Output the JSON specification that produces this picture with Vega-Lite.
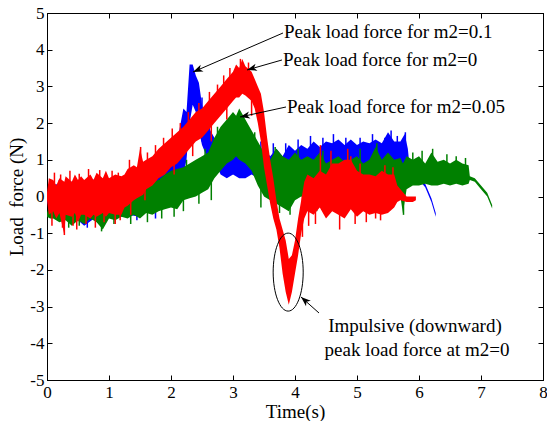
{
  "$schema": "https://vega.github.io/schema/vega-lite/v6.json",
  "width": 496,
  "height": 367,
  "autosize": {"type": "none"},
  "padding": {"left": 47, "top": 13, "right": 4, "bottom": 41},
  "config": {
    "font": "Liberation Serif",
    "view": {"stroke": "black", "strokeWidth": 1},
    "axis": {
      "domainColor": "black", "tickColor": "black", "labelColor": "black", "titleColor": "black",
      "labelFont": "Liberation Serif", "titleFont": "Liberation Serif",
      "labelFontSize": 17, "titleFontSize": 19, "titleFontWeight": "normal",
      "grid": false, "tickSize": -5, "labelFlush": false, "labelOverlap": false
    }
  },
  "datasets": {
    "blue": [
      {"t":0.0,"lo":-0.1,"hi":0.1},{"t":0.05,"lo":-0.5,"hi":0.3},{"t":0.2,"lo":-0.55,"hi":0.35},{"t":0.4,"lo":-0.5,"hi":0.4},
      {"t":0.6,"lo":-0.8,"hi":0.35},{"t":0.8,"lo":-0.55,"hi":0.5},{"t":1.0,"lo":-0.5,"hi":0.45},{"t":1.2,"lo":-0.55,"hi":0.5},
      {"t":1.3,"lo":-0.5,"hi":0.4},{"t":1.5,"lo":-0.55,"hi":0.6},{"t":1.6,"lo":-0.4,"hi":0.6},{"t":1.7,"lo":-0.35,"hi":0.8},
      {"t":1.8,"lo":-0.2,"hi":0.9},{"t":1.9,"lo":-0.1,"hi":1.0},{"t":2.0,"lo":0.0,"hi":1.2},{"t":2.1,"lo":0.2,"hi":1.5},
      {"t":2.2,"lo":0.6,"hi":2.4},{"t":2.25,"lo":1.0,"hi":2.3},{"t":2.3,"lo":2.0,"hi":3.6},{"t":2.35,"lo":2.5,"hi":3.6},
      {"t":2.4,"lo":2.3,"hi":3.3},{"t":2.45,"lo":1.8,"hi":3.1},{"t":2.5,"lo":1.4,"hi":2.5},{"t":2.55,"lo":1.2,"hi":2.1},
      {"t":2.6,"lo":1.0,"hi":1.9},{"t":2.7,"lo":1.0,"hi":1.6},{"t":2.8,"lo":0.6,"hi":1.4},{"t":2.9,"lo":0.5,"hi":1.5},
      {"t":3.0,"lo":0.6,"hi":1.3},{"t":3.1,"lo":0.5,"hi":1.65},{"t":3.2,"lo":0.5,"hi":1.4},{"t":3.3,"lo":0.6,"hi":1.4},
      {"t":3.4,"lo":0.5,"hi":1.2},{"t":3.5,"lo":0.4,"hi":1.3},{"t":3.6,"lo":0.3,"hi":1.1},{"t":3.7,"lo":0.4,"hi":1.3},
      {"t":3.8,"lo":0.35,"hi":1.1},{"t":3.9,"lo":0.5,"hi":1.4},{"t":4.0,"lo":0.5,"hi":1.25},{"t":4.1,"lo":0.6,"hi":1.4},
      {"t":4.2,"lo":0.6,"hi":1.3},{"t":4.3,"lo":0.6,"hi":1.5},{"t":4.4,"lo":0.6,"hi":1.35},{"t":4.5,"lo":0.65,"hi":1.5},
      {"t":4.6,"lo":0.6,"hi":1.45},{"t":4.7,"lo":0.7,"hi":1.55},{"t":4.8,"lo":0.6,"hi":1.4},{"t":4.9,"lo":0.65,"hi":1.55},
      {"t":5.0,"lo":0.6,"hi":1.4},{"t":5.1,"lo":0.65,"hi":1.5},{"t":5.2,"lo":0.6,"hi":1.45},{"t":5.3,"lo":0.7,"hi":1.55},
      {"t":5.4,"lo":0.6,"hi":1.45},{"t":5.5,"lo":0.65,"hi":1.75},{"t":5.6,"lo":0.6,"hi":1.5},{"t":5.7,"lo":0.65,"hi":1.5},
      {"t":5.77,"lo":0.6,"hi":1.7},{"t":5.82,"lo":0.6,"hi":1.3},{"t":5.85,"lo":0.6,"hi":0.8},{"t":5.9,"lo":0.6,"hi":0.7},
      {"t":6.0,"lo":0.45,"hi":0.55},{"t":6.1,"lo":0.25,"hi":0.35},{"t":6.2,"lo":-0.15,"hi":-0.05},{"t":6.27,"lo":-0.55,"hi":-0.45}
    ],
    "blueSpikes": [
      {"t":0.2,"lo":0,"hi":0.45},{"t":0.7,"lo":0,"hi":0.55},{"t":1.12,"lo":0,"hi":0.5},{"t":1.55,"lo":0,"hi":0.65},
      {"t":1.95,"lo":0.5,"hi":1.3},{"t":2.12,"lo":0.5,"hi":1.6},{"t":2.5,"lo":1.5,"hi":2.7},{"t":2.62,"lo":1.0,"hi":2.1},
      {"t":2.77,"lo":0.8,"hi":1.7},{"t":2.98,"lo":0.6,"hi":1.7},{"t":3.15,"lo":0.7,"hi":1.6},{"t":3.45,"lo":0.6,"hi":1.5},
      {"t":3.65,"lo":0.5,"hi":1.45},{"t":3.85,"lo":0.5,"hi":1.45},{"t":4.05,"lo":0.7,"hi":1.55},{"t":4.25,"lo":0.8,"hi":1.65},
      {"t":4.45,"lo":0.8,"hi":1.6},{"t":4.62,"lo":0.9,"hi":1.7},{"t":4.82,"lo":0.9,"hi":1.6},{"t":5.05,"lo":0.9,"hi":1.6},
      {"t":5.25,"lo":0.9,"hi":1.7},{"t":5.45,"lo":0.9,"hi":1.6},{"t":5.55,"lo":0.9,"hi":1.8},{"t":5.65,"lo":0.9,"hi":1.65},
      {"t":5.78,"lo":0.9,"hi":1.75},{"t":1.75,"lo":-0.6,"hi":0},{"t":2.1,"lo":-0.3,"hi":0.3},{"t":0.65,"lo":-0.85,"hi":-0.3},
      {"t":1.45,"lo":-0.65,"hi":-0.3}
    ],
    "green": [
      {"t":0.0,"lo":-0.55,"hi":-0.45},{"t":0.05,"lo":-0.6,"hi":-0.2},{"t":0.1,"lo":-0.6,"hi":0.0},{"t":0.2,"lo":-0.7,"hi":0.1},
      {"t":0.3,"lo":-0.65,"hi":0.1},{"t":0.4,"lo":-0.8,"hi":0.0},{"t":0.5,"lo":-0.65,"hi":0.1},{"t":0.6,"lo":-0.75,"hi":0.0},
      {"t":0.7,"lo":-0.6,"hi":0.1},{"t":0.8,"lo":-0.7,"hi":0.05},{"t":0.9,"lo":-0.9,"hi":0.1},{"t":1.0,"lo":-0.6,"hi":0.1},
      {"t":1.1,"lo":-0.65,"hi":0.15},{"t":1.2,"lo":-0.55,"hi":0.1},{"t":1.3,"lo":-0.6,"hi":0.15},{"t":1.4,"lo":-0.5,"hi":0.2},
      {"t":1.5,"lo":-0.6,"hi":0.2},{"t":1.6,"lo":-0.45,"hi":0.3},{"t":1.7,"lo":-0.5,"hi":0.4},{"t":1.8,"lo":-0.4,"hi":0.45},
      {"t":1.9,"lo":-0.35,"hi":0.6},{"t":2.0,"lo":-0.3,"hi":0.7},{"t":2.1,"lo":-0.35,"hi":0.75},{"t":2.2,"lo":-0.1,"hi":0.8},
      {"t":2.3,"lo":-0.05,"hi":0.9},{"t":2.4,"lo":0.0,"hi":1.0},{"t":2.5,"lo":0.1,"hi":1.1},{"t":2.6,"lo":0.2,"hi":1.2},
      {"t":2.7,"lo":0.5,"hi":1.6},{"t":2.8,"lo":0.7,"hi":1.9},{"t":2.9,"lo":0.9,"hi":2.1},{"t":3.0,"lo":1.0,"hi":2.3},
      {"t":3.05,"lo":1.1,"hi":2.2},{"t":3.1,"lo":1.0,"hi":2.4},{"t":3.2,"lo":0.9,"hi":2.1},{"t":3.3,"lo":0.7,"hi":1.8},
      {"t":3.4,"lo":0.3,"hi":1.5},{"t":3.5,"lo":0.0,"hi":1.2},{"t":3.6,"lo":-0.1,"hi":1.0},{"t":3.7,"lo":-0.2,"hi":1.3},
      {"t":3.8,"lo":-0.3,"hi":1.1},{"t":3.9,"lo":-0.4,"hi":1.0},{"t":4.0,"lo":-0.1,"hi":1.2},{"t":4.1,"lo":0.0,"hi":1.0},
      {"t":4.2,"lo":-0.1,"hi":1.1},{"t":4.3,"lo":0.0,"hi":1.0},{"t":4.4,"lo":-0.1,"hi":1.2},{"t":4.5,"lo":0.0,"hi":0.9},
      {"t":4.6,"lo":-0.2,"hi":1.0},{"t":4.7,"lo":-0.1,"hi":1.1},{"t":4.8,"lo":0.0,"hi":0.95},{"t":4.9,"lo":-0.1,"hi":1.0},
      {"t":5.0,"lo":-0.2,"hi":1.1},{"t":5.1,"lo":-0.1,"hi":0.9},{"t":5.2,"lo":-0.2,"hi":1.0},{"t":5.3,"lo":-0.15,"hi":1.35},
      {"t":5.4,"lo":-0.2,"hi":1.0},{"t":5.5,"lo":-0.1,"hi":1.2},{"t":5.6,"lo":0.1,"hi":1.0},{"t":5.7,"lo":0.0,"hi":1.05},
      {"t":5.74,"lo":-0.45,"hi":0.9},{"t":5.8,"lo":0.2,"hi":1.1},{"t":5.9,"lo":0.3,"hi":1.0},{"t":6.0,"lo":0.3,"hi":1.1},
      {"t":6.1,"lo":0.35,"hi":0.9},{"t":6.2,"lo":0.3,"hi":1.2},{"t":6.3,"lo":0.3,"hi":0.95},{"t":6.4,"lo":0.35,"hi":1.0},
      {"t":6.5,"lo":0.3,"hi":0.9},{"t":6.6,"lo":0.35,"hi":1.0},{"t":6.7,"lo":0.3,"hi":0.9},{"t":6.8,"lo":0.35,"hi":0.85},
      {"t":6.82,"lo":0.45,"hi":0.55},{"t":6.9,"lo":0.4,"hi":0.5},{"t":7.0,"lo":0.2,"hi":0.3},{"t":7.1,"lo":0.0,"hi":0.1},
      {"t":7.18,"lo":-0.33,"hi":-0.23}
    ],
    "greenSpikes": [
      {"t":0.35,"lo":-0.85,"hi":-0.3},{"t":0.52,"lo":-0.8,"hi":-0.3},{"t":0.88,"lo":-0.95,"hi":-0.3},{"t":1.08,"lo":-0.75,"hi":-0.3},
      {"t":1.35,"lo":-0.75,"hi":-0.3},{"t":1.62,"lo":-0.7,"hi":-0.2},{"t":1.85,"lo":-0.6,"hi":-0.1},{"t":2.05,"lo":-0.55,"hi":0},
      {"t":2.2,"lo":-0.4,"hi":0},{"t":2.45,"lo":-0.2,"hi":0.3},{"t":2.65,"lo":-0.1,"hi":0.5},{"t":3.45,"lo":-0.3,"hi":0.5},
      {"t":3.75,"lo":-0.45,"hi":0.3},{"t":3.92,"lo":-0.5,"hi":0.3},{"t":4.35,"lo":-0.4,"hi":0.3},{"t":5.22,"lo":-0.45,"hi":0.3},
      {"t":5.75,"lo":-0.5,"hi":0.3},{"t":2.25,"lo":0.3,"hi":1.0},{"t":2.55,"lo":0.5,"hi":1.3},{"t":2.75,"lo":1.0,"hi":1.9},
      {"t":3.35,"lo":1.0,"hi":1.75},{"t":3.68,"lo":0.5,"hi":1.35},{"t":4.05,"lo":0.5,"hi":1.3},{"t":4.45,"lo":0.5,"hi":1.25},
      {"t":4.85,"lo":0.5,"hi":1.2},{"t":5.05,"lo":0.5,"hi":1.3},{"t":5.32,"lo":0.5,"hi":1.45},{"t":5.9,"lo":0.5,"hi":1.2},
      {"t":6.05,"lo":0.5,"hi":1.25},{"t":6.22,"lo":0.5,"hi":1.3},{"t":6.45,"lo":0.5,"hi":1.15},{"t":6.6,"lo":0.5,"hi":1.1},
      {"t":6.75,"lo":0.5,"hi":1.05}
    ],
    "red": [
      {"t":0.0,"lo":-0.1,"hi":0.1},{"t":0.03,"lo":-0.5,"hi":0.5},{"t":0.1,"lo":-0.4,"hi":0.45},{"t":0.15,"lo":-0.6,"hi":0.3},
      {"t":0.2,"lo":-0.45,"hi":0.5},{"t":0.28,"lo":-1.05,"hi":0.4},{"t":0.3,"lo":-0.5,"hi":0.55},{"t":0.4,"lo":-0.55,"hi":0.4},
      {"t":0.45,"lo":-0.45,"hi":0.6},{"t":0.5,"lo":-0.7,"hi":0.45},{"t":0.55,"lo":-0.5,"hi":0.55},{"t":0.6,"lo":-0.5,"hi":0.45},
      {"t":0.7,"lo":-0.6,"hi":0.6},{"t":0.75,"lo":-0.5,"hi":0.45},{"t":0.8,"lo":-0.55,"hi":0.65},{"t":0.9,"lo":-0.45,"hi":0.5},
      {"t":0.95,"lo":-0.55,"hi":0.7},{"t":1.0,"lo":-0.45,"hi":0.5},{"t":1.1,"lo":-0.5,"hi":0.6},{"t":1.2,"lo":-0.5,"hi":0.55},
      {"t":1.25,"lo":-0.3,"hi":0.6},{"t":1.3,"lo":-0.25,"hi":0.75},{"t":1.4,"lo":-0.1,"hi":0.85},{"t":1.45,"lo":-0.05,"hi":0.8},
      {"t":1.5,"lo":0.0,"hi":1.3},{"t":1.55,"lo":0.05,"hi":0.95},{"t":1.6,"lo":0.2,"hi":1.0},{"t":1.7,"lo":0.3,"hi":1.1},
      {"t":1.8,"lo":0.5,"hi":1.3},{"t":1.9,"lo":0.6,"hi":1.45},{"t":2.0,"lo":0.8,"hi":1.6},{"t":2.1,"lo":0.9,"hi":1.75},
      {"t":2.2,"lo":1.1,"hi":1.9},{"t":2.3,"lo":1.3,"hi":2.1},{"t":2.4,"lo":1.5,"hi":2.3},{"t":2.5,"lo":1.6,"hi":2.4},
      {"t":2.6,"lo":1.8,"hi":2.6},{"t":2.7,"lo":2.0,"hi":2.8},{"t":2.8,"lo":2.2,"hi":3.0},{"t":2.9,"lo":2.4,"hi":3.2},
      {"t":3.0,"lo":2.6,"hi":3.4},{"t":3.05,"lo":2.7,"hi":3.6},{"t":3.1,"lo":2.7,"hi":3.5},{"t":3.15,"lo":2.8,"hi":3.75},
      {"t":3.2,"lo":2.75,"hi":3.55},{"t":3.3,"lo":2.6,"hi":3.4},{"t":3.35,"lo":2.4,"hi":3.2},{"t":3.4,"lo":2.0,"hi":3.0},
      {"t":3.45,"lo":1.5,"hi":2.8},{"t":3.5,"lo":0.8,"hi":2.3},{"t":3.55,"lo":0.3,"hi":1.6},{"t":3.6,"lo":-0.2,"hi":1.0},
      {"t":3.65,"lo":-0.6,"hi":0.5},{"t":3.7,"lo":-0.9,"hi":-0.1},{"t":3.75,"lo":-1.4,"hi":-0.6},{"t":3.8,"lo":-2.1,"hi":-0.9},
      {"t":3.85,"lo":-2.6,"hi":-1.2},{"t":3.9,"lo":-2.95,"hi":-1.7},{"t":3.95,"lo":-2.6,"hi":-1.6},{"t":4.0,"lo":-2.1,"hi":-1.2},
      {"t":4.05,"lo":-1.6,"hi":-0.6},{"t":4.1,"lo":-1.0,"hi":-0.1},{"t":4.15,"lo":-0.6,"hi":0.4},{"t":4.2,"lo":-0.4,"hi":0.6},
      {"t":4.3,"lo":-0.5,"hi":0.5},{"t":4.4,"lo":-0.3,"hi":0.7},{"t":4.5,"lo":-0.6,"hi":0.6},{"t":4.6,"lo":-0.4,"hi":0.9},
      {"t":4.7,"lo":-0.5,"hi":0.9},{"t":4.8,"lo":-0.6,"hi":1.0},{"t":4.9,"lo":-0.35,"hi":1.0},{"t":5.0,"lo":-0.55,"hi":0.7},
      {"t":5.1,"lo":-0.4,"hi":0.6},{"t":5.2,"lo":-0.5,"hi":0.6},{"t":5.3,"lo":-0.45,"hi":0.55},{"t":5.4,"lo":-0.5,"hi":0.7},
      {"t":5.5,"lo":-0.45,"hi":0.6},{"t":5.6,"lo":-0.3,"hi":0.6},{"t":5.65,"lo":-0.15,"hi":0.3},{"t":5.7,"lo":-0.1,"hi":0.2},
      {"t":5.8,"lo":-0.15,"hi":0.0},{"t":5.9,"lo":-0.15,"hi":0.0},{"t":5.95,"lo":-0.1,"hi":0.0}
    ],
    "redSpikes": [
      {"t":0.12,"lo":0,"hi":0.65},{"t":0.22,"lo":0,"hi":0.6},{"t":0.37,"lo":0,"hi":0.7},{"t":0.52,"lo":0,"hi":0.62},
      {"t":0.67,"lo":0,"hi":0.75},{"t":0.85,"lo":0,"hi":0.72},{"t":1.05,"lo":0,"hi":0.7},{"t":1.15,"lo":0,"hi":0.65},
      {"t":1.33,"lo":0.2,"hi":1.0},{"t":1.51,"lo":0.3,"hi":1.35},{"t":1.62,"lo":0.4,"hi":1.2},{"t":1.75,"lo":0.6,"hi":1.4},
      {"t":1.88,"lo":0.8,"hi":1.6},{"t":2.02,"lo":1.0,"hi":1.85},{"t":2.15,"lo":1.2,"hi":2.0},{"t":2.28,"lo":1.5,"hi":2.3},
      {"t":2.45,"lo":1.7,"hi":2.55},{"t":2.62,"lo":2.0,"hi":2.85},{"t":2.75,"lo":2.2,"hi":3.05},{"t":2.85,"lo":2.4,"hi":3.3},
      {"t":2.95,"lo":2.6,"hi":3.5},{"t":3.12,"lo":2.9,"hi":3.75},{"t":3.25,"lo":2.9,"hi":3.65},
      {"t":0.08,"lo":-0.8,"hi":0},{"t":0.25,"lo":-0.85,"hi":0},{"t":0.28,"lo":-1.05,"hi":0},{"t":0.42,"lo":-0.8,"hi":0},
      {"t":0.48,"lo":-0.9,"hi":0},{"t":0.63,"lo":-0.75,"hi":0},{"t":0.78,"lo":-0.85,"hi":0},{"t":0.92,"lo":-0.7,"hi":0},
      {"t":1.1,"lo":-0.75,"hi":0},{"t":1.18,"lo":-0.65,"hi":0},{"t":1.35,"lo":-0.5,"hi":0},{"t":1.58,"lo":-0.1,"hi":0.5},
      {"t":2.05,"lo":0.6,"hi":1.2},{"t":2.35,"lo":1.1,"hi":1.8},{"t":2.65,"lo":1.5,"hi":2.2},{"t":2.9,"lo":2.1,"hi":2.8},
      {"t":3.3,"lo":2.2,"hi":3.0},
      {"t":4.12,"lo":-1.1,"hi":0},{"t":4.22,"lo":-0.8,"hi":0},{"t":4.33,"lo":-0.75,"hi":0.2},{"t":4.41,"lo":0,"hi":1.4},
      {"t":4.58,"lo":0,"hi":1.25},{"t":4.72,"lo":-0.9,"hi":0},{"t":4.85,"lo":0,"hi":1.3},{"t":4.9,"lo":0,"hi":1.1},
      {"t":4.97,"lo":-0.75,"hi":0},{"t":5.05,"lo":0,"hi":0.9},{"t":5.15,"lo":-0.7,"hi":0},{"t":5.3,"lo":-0.6,"hi":0},
      {"t":5.45,"lo":0,"hi":0.85},{"t":5.58,"lo":0,"hi":0.8},{"t":5.38,"lo":-0.65,"hi":0}
    ],
    "arrows": [
      {"id":1,"t":3.806,"v":4.455,"t2":2.355,"v2":3.392},
      {"id":2,"t":3.79,"v":3.72,"t2":3.226,"v2":3.447},
      {"id":3,"t":3.855,"v":2.439,"t2":3.113,"v2":2.166},
      {"id":4,"t":4.387,"v":-3.174,"t2":4.097,"v2":-2.738}
    ],
    "labels": [
      {"t":3.823,"v":4.48,"label":"Peak load force for m2=0.1","pos":"left"},
      {"t":3.806,"v":3.72,"label":"Peak load force for m2=0","pos":"left"},
      {"t":3.871,"v":2.44,"label":"Peak load force for m2=0.05","pos":"left"},
      {"t":5.935,"v":-3.53,"label":"Impulsive (downward)","pos":"center"},
      {"t":5.968,"v":-4.18,"label":"peak load force at m2=0","pos":"center"}
    ],
    "ellipse": [{"t":3.89,"v":-2.06}]
  },
  "resolve": {"axis": {"x": "independent", "y": "independent"}},
  "layer": [
    {
      "data": {"name": "blue"},
      "mark": {"type": "area", "color": "#0000ff", "opacity": 1},
      "encoding": {
        "x": {"field": "t", "type": "quantitative", "scale": {"domain": [0, 8], "nice": false, "zero": false},
              "axis": {"orient": "bottom", "values": [0,1,2,3,4,5,6,7,8], "title": "Time(s)", "labelPadding": 9, "titlePadding": 2}},
        "y": {"field": "hi", "type": "quantitative", "scale": {"domain": [-5, 5], "nice": false, "zero": false},
              "axis": {"orient": "left", "values": [-5,-4,-3,-2,-1,0,1,2,3,4,5], "title": "Load\u00a0 force (N)", "labelExpr": "'' + datum.value", "labelPadding": 8, "titlePadding": 3}},
        "y2": {"field": "lo"}
      }
    },
    {
      "data": {"name": "blueSpikes"},
      "mark": {"type": "rule", "color": "#0000ff", "strokeWidth": 1.5},
      "encoding": {
        "x": {"field": "t", "type": "quantitative", "axis": null},
        "y": {"field": "hi", "type": "quantitative", "axis": null},
        "y2": {"field": "lo"}
      }
    },
    {
      "data": {"name": "green"},
      "mark": {"type": "area", "color": "#008000", "opacity": 1},
      "encoding": {
        "x": {"field": "t", "type": "quantitative",
              "axis": {"orient": "top", "values": [0,1,2,3,4,5,6,7,8], "labels": false, "title": null}},
        "y": {"field": "hi", "type": "quantitative",
              "axis": {"orient": "right", "values": [-5,-4,-3,-2,-1,0,1,2,3,4,5], "labels": false, "title": null}},
        "y2": {"field": "lo"}
      }
    },
    {
      "data": {"name": "greenSpikes"},
      "mark": {"type": "rule", "color": "#008000", "strokeWidth": 1.5},
      "encoding": {
        "x": {"field": "t", "type": "quantitative", "axis": null},
        "y": {"field": "hi", "type": "quantitative", "axis": null},
        "y2": {"field": "lo"}
      }
    },
    {
      "data": {"name": "red"},
      "mark": {"type": "area", "color": "#ff0000", "opacity": 1},
      "encoding": {
        "x": {"field": "t", "type": "quantitative", "axis": null},
        "y": {"field": "hi", "type": "quantitative", "axis": null},
        "y2": {"field": "lo"}
      }
    },
    {
      "data": {"name": "redSpikes"},
      "mark": {"type": "rule", "color": "#ff0000", "strokeWidth": 1.5},
      "encoding": {
        "x": {"field": "t", "type": "quantitative", "axis": null},
        "y": {"field": "hi", "type": "quantitative", "axis": null},
        "y2": {"field": "lo"}
      }
    },
    {
      "data": {"name": "arrows"},
      "mark": {"type": "rule", "color": "black", "strokeWidth": 1},
      "encoding": {
        "x": {"field": "t", "type": "quantitative", "axis": null},
        "y": {"field": "v", "type": "quantitative", "axis": null},
        "x2": {"field": "t2"},
        "y2": {"field": "v2"}
      }
    },
    {
      "data": {"name": "arrows"},
      "mark": {"type": "point", "filled": true, "color": "black", "opacity": 1, "size": 324,
               "shape": "M0,0L-0.4,1.1L0,0.8L0.4,1.1Z"},
      "encoding": {
        "x": {"field": "t2", "type": "quantitative", "axis": null},
        "y": {"field": "v2", "type": "quantitative", "axis": null},
        "angle": {"field": "id", "type": "quantitative", "scale": {"type": "linear", "domain": [1, 2, 3, 4], "range": [246.6, 254, 257.7, 311.6]}, "legend": null}
      }
    },
    {
      "data": {"name": "ellipse"},
      "mark": {"type": "point", "filled": false, "color": "black", "strokeWidth": 1, "opacity": 1, "size": 6084,
               "shape": "M-0.385,0A0.385,1,0,1,0,0.385,0A0.385,1,0,1,0,-0.385,0Z"},
      "encoding": {
        "x": {"field": "t", "type": "quantitative", "axis": null},
        "y": {"field": "v", "type": "quantitative", "axis": null}
      }
    },
    {
      "data": {"name": "labels"},
      "transform": [{"filter": "datum.pos == 'left'"}],
      "mark": {"type": "text", "align": "left", "baseline": "middle", "font": "Liberation Serif", "fontSize": 19, "color": "black"},
      "encoding": {
        "x": {"field": "t", "type": "quantitative", "axis": null},
        "y": {"field": "v", "type": "quantitative", "axis": null},
        "text": {"field": "label"}
      }
    },
    {
      "data": {"name": "labels"},
      "transform": [{"filter": "datum.pos == 'center'"}],
      "mark": {"type": "text", "align": "center", "baseline": "middle", "font": "Liberation Serif", "fontSize": 19, "color": "black"},
      "encoding": {
        "x": {"field": "t", "type": "quantitative", "axis": null},
        "y": {"field": "v", "type": "quantitative", "axis": null},
        "text": {"field": "label"}
      }
    }
  ]
}
